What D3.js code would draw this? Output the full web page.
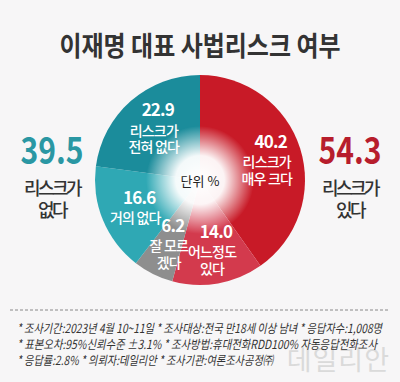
<!DOCTYPE html>
<html>
<head>
<meta charset="utf-8">
<script src="https://cdn.jsdelivr.net/npm/d3@7"></script>
<style>
  body { margin: 0; background: #f7f6f7; }
  svg { display: block; font-family: "Noto Sans CJK KR", "Noto Sans", sans-serif; }
</style>
</head>
<body>
<div id="chart"></div>
<script>
// data
const categories = ['리스크가 매우 크다', '어느정도 있다', '잘 모르겠다', '거의 없다', '리스크가 전혀 없다'];
const values = [40.2, 14.0, 6.2, 16.6, 22.9];
const labelLines = [['리스크가', '매우 크다'], ['어느정도', '있다'], ['잘 모르', '겠다'], ['거의 없다'], ['리스크가', '전혀 없다']];
const colors = ['#c81a27', '#d33a4d', '#8e8e8e', '#2fa8b4', '#1b8c9b'];
const totals = [{ value: 39.5, lines: ['리스크가', '없다'], color: '#2a97a3' },
                { value: 54.3, lines: ['리스크가', '있다'], color: '#b71d2c' }];
const title = '이재명 대표 사법리스크 여부';
const notes = [
    '* 조사기간:2023년 4월 10~11일  * 조사대상:전국 만18세 이상 남녀  * 응답자수:1,008명',
    '* 표본오차:95%신뢰수준 ±3.1%  * 조사방법:휴대전화RDD100% 자동응답전화조사',
    '* 응답률:2.8%  * 의뢰자:데일리안  * 조사기관:여론조사공정㈜'
];

const fmt = {
    width: 400, height: 382,
    cx: 200, cy: 180, r: 105
};

let svg = d3.select('#chart').append('svg')
    .attr('width', fmt.width)
    .attr('height', fmt.height);

svg.append('rect')
    .attr('width', fmt.width)
    .attr('height', fmt.height)
    .attr('fill', '#f7f6f7');

svg.append('text')
    .attr('x', fmt.width/2)
    .attr('y', 56)
    .attr('text-anchor', 'middle')
    .attr('font-size', 27)
    .attr('font-weight', 700)
    .attr('fill', '#333')
    .attr('textLength', 281)
    .attr('lengthAdjust', 'spacingAndGlyphs')
    .text(title);

let pie = d3.pie().sort(null).value((d) => d);
let arcs = pie(values);
let arc = d3.arc().innerRadius(0).outerRadius(fmt.r);
let labelArc = d3.arc().innerRadius(70).outerRadius(70);

let g = svg.append('g')
    .attr('transform', 'translate(' + fmt.cx + ',' + fmt.cy + ')');

g.selectAll('.slice')
    .data(arcs)
    .enter().append('path')
    .attr('d', arc)
    .attr('fill', (_, i) => colors[i]);

// white glow in the middle
let grad = svg.append('defs').append('radialGradient')
    .attr('id', 'glow');
grad.append('stop').attr('offset', '0%').attr('stop-color', '#fff').attr('stop-opacity', 1);
grad.append('stop').attr('offset', '45%').attr('stop-color', '#fff').attr('stop-opacity', 0.95);
grad.append('stop').attr('offset', '100%').attr('stop-color', '#fff').attr('stop-opacity', 0);

g.append('circle')
    .attr('r', 54)
    .attr('fill', 'url(#glow)');

g.append('text')
    .attr('y', 6)
    .attr('text-anchor', 'middle')
    .attr('font-size', 13)
    .attr('fill', '#222')
    .text('단위 %');

arcs.forEach((d, i) => {
    let c = labelArc.centroid(d);
    let lines = labelLines[i];
    let y0 = c[1] - 11 + (2 - lines.length) * 8;
    let t = g.append('g').attr('fill', '#fff').attr('text-anchor', 'middle');
    t.append('text')
        .attr('x', c[0] + 4)
        .attr('y', y0)
        .attr('font-size', 17)
        .attr('font-weight', 700)
        .attr('letter-spacing', -0.8)
        .text(values[i].toFixed(1));
    lines.forEach((l, j) => {
        t.append('text')
            .attr('x', c[0])
            .attr('y', y0 + 19.5 + j * 16.5)
            .attr('font-size', 14)
            .attr('font-weight', 500)
            .attr('letter-spacing', -0.8)
            .text(l);
    });
});

// side totals
let side = d3.scaleOrdinal().domain([0, 1]).range([52, 350]);
totals.forEach((d, i) => {
    let t = svg.append('g').attr('text-anchor', 'middle');
    t.append('text')
        .attr('x', side(i))
        .attr('y', 164)
        .attr('font-size', 37)
        .attr('font-weight', 700)
        .attr('fill', d.color)
        .attr('textLength', 63)
        .attr('lengthAdjust', 'spacingAndGlyphs')
        .text(d.value.toFixed(1));
    d.lines.forEach((l, j) => {
        t.append('text')
            .attr('x', side(i))
            .attr('y', 195 + j * 22)
            .attr('font-size', 18)
            .attr('font-weight', 500)
            .attr('letter-spacing', -2.5)
            .attr('fill', '#333')
            .text(l);
    });
});

svg.append('line')
    .attr('x1', 10).attr('x2', 390)
    .attr('y1', 310).attr('y2', 310)
    .attr('stroke', '#888')
    .attr('stroke-dasharray', '3,2');

svg.append('text')
    .attr('x', 390)
    .attr('y', 370)
    .attr('text-anchor', 'end')
    .attr('font-size', 27)
    .attr('fill', '#dadada')
    .attr('letter-spacing', 1)
    .text('데일리안');

const noteWidths = [365, 360, 256];
notes.forEach((n, i) => {
    svg.append('text')
        .attr('x', 17)
        .attr('y', 333 + i * 16)
        .attr('font-size', 12.5)
        .attr('font-style', 'italic')
        .attr('fill', '#333')
        .attr('textLength', noteWidths[i])
        .attr('lengthAdjust', 'spacingAndGlyphs')
        .text(n);
});
</script>
</body>
</html>
